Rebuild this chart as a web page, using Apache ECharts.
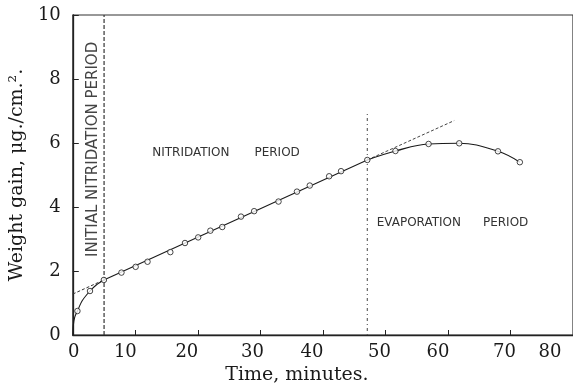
<!DOCTYPE html>
<html><head><meta charset="utf-8">
<script src="https://cdn.jsdelivr.net/npm/echarts@6/dist/echarts.min.js"></script>
<style>html,body{margin:0;padding:0;background:#fff}#c{width:573px;height:391px}</style>
</head><body><div id="c"></div>
<script>
// Observed points
const obsTime = [0.74, 2.75, 4.97, 7.78, 10.05, 11.95, 15.6, 17.94, 20.05, 22.0, 23.9, 26.9, 29.0, 32.9, 35.85, 37.9, 41.0, 42.9, 47.1, 51.6, 56.9, 61.8, 68.0, 71.5];
const obsGain = [0.75, 1.375, 1.72, 1.95, 2.13, 2.29, 2.59, 2.875, 3.05, 3.26, 3.375, 3.7, 3.87, 4.17, 4.48, 4.67, 4.96, 5.12, 5.47, 5.75, 5.97, 5.99, 5.74, 5.4];
// Drawn curves
const initCurveTime = [0, 0.08, 0.3, 0.74, 1.5, 2.75, 3.8, 4.97];
const initCurveGain = [0, 0.3, 0.55, 0.75, 1.07, 1.375, 1.57, 1.72];
const linearTime = [4.97, 47.1];
const linearGain = [1.72, 5.47];
const extrapBackTime = [0, 4.97];
const extrapBackGain = [1.28, 1.72];
const extrapFwdTime = [47.1, 61];
const extrapFwdGain = [5.47, 6.7];
const evapCurveTime = [47.1, 51.6, 56.9, 61.8, 68.0, 71.5];
const evapCurveGain = [5.47, 5.75, 5.97, 5.99, 5.74, 5.4];
const initBoundaryTime = [5, 5];
const initBoundaryGain = [0, 10];
const evapBoundaryTime = [47.1, 47.1];
const evapBoundaryGain = [0, 7];
const xTickLabels = ['0','10','20','30','40','50','60','70','80'];
const yTickLabels = ['0','2','4','6','8','10'];

const zip = (a, b) => a.map((v, i) => [v, b[i]]);
const INK = '#1a1a1a';
const serif = 'DejaVu Serif';

const xShift = {0: 1, 10: -10, 20: -11, 30: -8, 40: -11, 50: -6, 60: -10, 70: -6, 80: -23};
const rich = {};
xTickLabels.forEach(t => {
  const s = xShift[t] || 0;
  rich['s' + t] = { fontFamily: serif, fontSize: 18, color: INK,
    padding: s < 0 ? [0, -2 * s, 0, 0] : [0, 0, 0, 2 * s] };
});

const chart = echarts.init(document.getElementById('c'), null, {renderer: 'canvas'});
chart.setOption({
  backgroundColor: '#fff',
  animation: false,
  grid: { left: 72, top: 15, right: -3, bottom: 56, show: true, borderColor: '#333', borderWidth: 1.2, backgroundColor: 'transparent' },
  xAxis: {
    type: 'value', min: 0, max: 80, interval: 10,
    axisLine: { show: true, lineStyle: { color: '#222', width: 1.3 } },
    axisTick: { show: true, inside: true, length: 5, lineStyle: { color: '#222' } },
    splitLine: { show: false },
    axisLabel: { margin: 8, showMaxLabel: true, showMinLabel: true,
      formatter: v => { const t = xTickLabels.find(l => +l === v); return t === undefined ? '' : '{s' + t + '|' + t + '}'; },
      rich: rich },
    name: 'Time, minutes.', nameLocation: 'middle', nameGap: 20,
    nameTextStyle: { fontFamily: serif, fontSize: 19, color: INK, padding: [0, 52, 0, 0] }
  },
  yAxis: {
    type: 'value', min: 0, max: 10, interval: 2,
    axisLine: { show: true, lineStyle: { color: '#222', width: 1.3 } },
    axisTick: { show: true, inside: true, length: 6, lineStyle: { color: '#222' } },
    splitLine: { show: false },
    axisLabel: { margin: 12, fontFamily: serif, fontSize: 18, color: INK,
      formatter: v => { const t = yTickLabels.find(l => +l === v); return t === undefined ? '' : t; } },
    name: 'Weight gain, μg./cm.².', nameLocation: 'middle', nameRotate: 90, nameGap: 31,
    nameTextStyle: { fontFamily: serif, fontSize: 19, color: INK }
  },
  series: [
    { type: 'line', data: zip(initBoundaryTime, initBoundaryGain), symbol: 'none', silent: true,
      lineStyle: { color: '#333', width: 1.2, type: [4, 2] }, z: 1 },
    { type: 'line', data: zip(evapBoundaryTime, evapBoundaryGain), symbol: 'none', silent: true,
      lineStyle: { color: '#555', width: 1.1, type: [1, 3, 3, 3] }, z: 1 },
    { type: 'line', data: zip(extrapBackTime, extrapBackGain), symbol: 'none',
      lineStyle: { color: '#333', width: 1, type: [3, 2] }, z: 2 },
    { type: 'line', data: zip(extrapFwdTime, extrapFwdGain), symbol: 'none',
      lineStyle: { color: '#444', width: 1, type: [3, 2] }, z: 2 },
    { type: 'line', data: zip(initCurveTime, initCurveGain), symbol: 'none', smooth: 0.3,
      lineStyle: { color: INK, width: 1.1 }, z: 3 },
    { type: 'line', data: zip(linearTime, linearGain), symbol: 'none',
      lineStyle: { color: INK, width: 1.1 }, z: 3 },
    { type: 'line', data: zip(evapCurveTime, evapCurveGain), symbol: 'none', smooth: 0.4,
      lineStyle: { color: INK, width: 1.1 }, z: 3 },
    { type: 'scatter', data: zip(obsTime, obsGain), symbol: 'circle', symbolSize: 5.5,
      itemStyle: { color: '#fff', borderColor: INK, borderWidth: 1 }, z: 5 }
  ]
});

const px = (x, y) => chart.convertToPixel({gridIndex: 0}, [x, y]);
const sans = 'DejaVu Sans';
const p1 = px(12.7, 5.69), p2 = px(29.05, 5.69), p3 = px(48.6, 3.5), p4 = px(65.6, 3.5), p5 = px(3.17, 5.8);
const txt = (p, s, extra) => Object.assign({ type: 'text', x: p[0], y: p[1],
  style: { text: s, fontFamily: sans, fontSize: 12, fill: '#333', textAlign: 'left', textVerticalAlign: 'middle' } }, extra || {});
const vt = txt(p5, 'INITIAL NITRIDATION PERIOD');
vt.rotation = Math.PI / 2;
vt.style.textAlign = 'center';
vt.style.fontSize = 15;
vt.style.fill = '#444';
chart.setOption({ graphic: [
  txt(p1, 'NITRIDATION'), txt(p2, 'PERIOD'), txt(p3, 'EVAPORATION'), txt(p4, 'PERIOD'), vt
]});
</script></body></html>
